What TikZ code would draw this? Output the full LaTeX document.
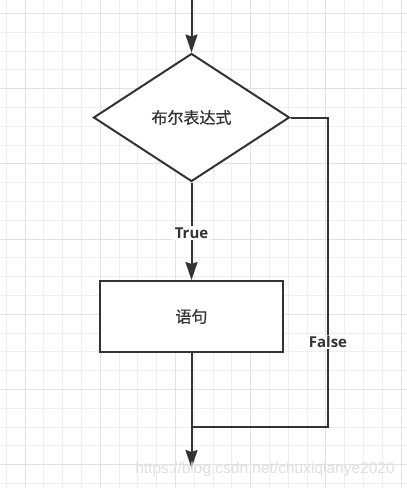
\documentclass[tikz,border=0pt]{standalone}
\usepackage{fontspec}
\usepackage{xcolor}
\usepackage{tikz}
\usetikzlibrary{arrows.meta,shapes.geometric}
\setmainfont{Open Sans}[BoldFont=* Bold]
\newfontfamily\cjk{Noto Sans CJK SC}[FakeBold=0.6]
\newfontfamily\wmfont{Liberation Sans}
\definecolor{flowline}{HTML}{333333}
\definecolor{gridminor}{HTML}{EFEFEF}
\definecolor{gridmajor}{HTML}{E2E2E2}

\begin{document}
\begin{tikzpicture}[x=1pt, y=-1pt,
  cond/.style={draw=flowline, line width=2pt, shape=diamond, fill=white, inner sep=0pt,
               minimum width=196pt, minimum height=128pt, font=\cjk\fontsize{16}{19}\selectfont, text=flowline},
  stmt/.style={draw=flowline, line width=2pt, fill=white,
               minimum width=183pt, minimum height=71pt, font=\cjk\fontsize{16}{19}\selectfont, text=flowline},
  lbl/.style={fill=white, inner sep=1.5pt, font=\bfseries\fontsize{15}{18}\selectfont, text=flowline},
  link/.style={draw=flowline, line width=2pt},
  >={Stealth[length=18pt,width=12pt,inset=2pt]}
]
  \useasboundingbox (0,0) rectangle (407,488);
  % background grid
  \foreach \i in {0,...,21} \draw[gridminor, line width=0.8pt] (6.2+18.8*\i,0) -- (6.2+18.8*\i,488);
  \foreach \i in {0,...,25} \draw[gridminor, line width=0.8pt] (0,13.3+18.8*\i) -- (407,13.3+18.8*\i);
  \foreach \i in {0,...,5} \draw[gridmajor, line width=0.8pt] (25+75.2*\i,0) -- (25+75.2*\i,488);
  \foreach \i in {0,...,6} \draw[gridmajor, line width=0.8pt] (0,13.3+75.2*\i) -- (407,13.3+75.2*\i);

  \node[cond] (test) at (191.5,117.5) {布尔表达式};
  \node[stmt] (body) at (191.5,316.5) {语句};
  \coordinate (entry) at (191.5,0);
  \coordinate (corner) at (327.5,426.5);
  \coordinate (join) at (191.5,426.5);
  \coordinate (exit) at (191.5,468);

  \draw[link, ->] (entry) -- (test.north);
  \draw[link, ->] (test.south) -- node[lbl, pos=0.52] (tlbl) {True} (body.north);
  \draw[link] (test.east) -| (corner) -- (join);
  \draw[link, ->] (body.south) -- (exit);
  \node[lbl] (flbl) at (328,342) {False};

  \node[text=gray!25, font=\wmfont\fontsize{15.5}{18}\selectfont] (mark) at (265,469) {https://blog.csdn.net/chuxiqianye2020};
\end{tikzpicture}
\end{document}
